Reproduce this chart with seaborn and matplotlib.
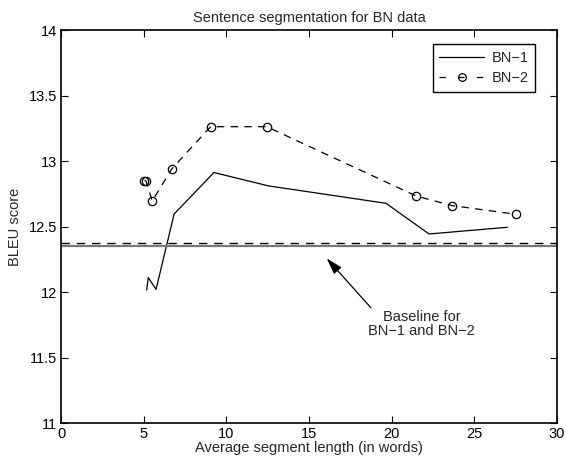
import matplotlib
matplotlib.use("Agg")
import matplotlib.pyplot as plt
import seaborn as sns
import pandas as pd
from matplotlib.lines import Line2D

# ---- data ----
bn1_x = [5.18, 5.28, 5.75, 6.84, 9.25, 12.55, 19.66, 22.26, 27.0]
bn1_y = [12.015, 12.11, 12.02, 12.595, 12.912, 12.81, 12.677, 12.443, 12.494]

bn2_x = [5.05, 5.13, 5.52, 6.70, 9.05, 12.44, 21.48, 23.63, 27.53]
bn2_y = [12.85, 12.85, 12.695, 12.94, 13.262, 13.262, 12.733, 12.66, 12.593]

baseline_bn1 = 12.353
baseline_bn2 = 12.372

x_ticks = [0, 5, 10, 15, 20, 25, 30]
y_ticks = [11, 11.5, 12, 12.5, 13, 13.5, 14]

title = "Sentence segmentation for BN data"
xlabel = "Average segment length (in words)"
ylabel = "BLEU score"
note = "Baseline for\nBN\u22121 and BN\u22122"
labels = ["BN\u22121", "BN\u22122"]

FS = 10.5

sns.set_style("ticks")
plt.rcParams["font.family"] = ["Liberation Sans", "DejaVu Sans"]
plt.rcParams["axes.unicode_minus"] = True

fig = plt.figure(figsize=(5.66, 4.61), dpi=100)
ax = fig.add_axes([61 / 566, 38 / 461, 496 / 566, 393 / 461])

df1 = pd.DataFrame({"x": bn1_x, "y": bn1_y})
df2 = pd.DataFrame({"x": bn2_x, "y": bn2_y})

sns.lineplot(data=df1, x="x", y="y", ax=ax, color="black", linewidth=0.9,
             estimator=None, sort=False, legend=False)
sns.lineplot(data=df2, x="x", y="y", ax=ax, color="black", linewidth=0.9,
             linestyle=(0, (6, 5)), marker="o", markersize=6,
             markerfacecolor="none", markeredgecolor="black", markeredgewidth=0.9,
             estimator=None, sort=False, legend=False)

ax.axhline(baseline_bn1, color="#777777", linewidth=1.6)
ax.axhline(baseline_bn2, color="black", linewidth=1.0, linestyle=(0, (6, 5)))

ax.annotate("", xy=(16.07, 12.257), xytext=(18.74, 11.88),
            arrowprops=dict(arrowstyle="-|>,head_length=1.0,head_width=0.3",
                            color="black", linewidth=0.9, shrinkA=0, shrinkB=0))
ax.text(21.82, 11.757, note, ha="center", va="center", fontsize=FS,
        linespacing=1.05)

ax.set_xlim(0, 30)
ax.set_ylim(11, 14)
ax.set_xticks(x_ticks)
ax.set_yticks(y_ticks)
ax.set_xticklabels([f"{t:g}" for t in x_ticks])
ax.set_yticklabels([f"{t:g}" for t in y_ticks])
ax.tick_params(direction="in", length=5, width=0.8, top=True, right=True,
               labelsize=FS, pad=3, colors="black")
for s in ax.spines.values():
    s.set_visible(True)
    s.set_linewidth(1.2)
    s.set_color("black")

ax.set_title(title, fontsize=FS, pad=6)
ax.set_xlabel(xlabel, fontsize=FS, labelpad=0)
ax.set_ylabel(ylabel, fontsize=FS, labelpad=5)

handles = [
    Line2D([], [], color="black", linewidth=0.9),
    Line2D([], [], color="black", linewidth=0.9, linestyle=(0, (5, 10)),
           marker="o", markersize=5.5, markerfacecolor="none", markeredgewidth=0.9),
]
leg = ax.legend(handles, labels, loc="upper right", bbox_to_anchor=(0.956, 0.964),
                borderaxespad=0.0,
                fontsize=FS, frameon=True, fancybox=False, framealpha=1,
                edgecolor="black", handlelength=3.1, handletextpad=0.5,
                borderpad=0.45, labelspacing=0.45)
leg.get_frame().set_linewidth(1.0)

fig.savefig("out.png", dpi=100)
